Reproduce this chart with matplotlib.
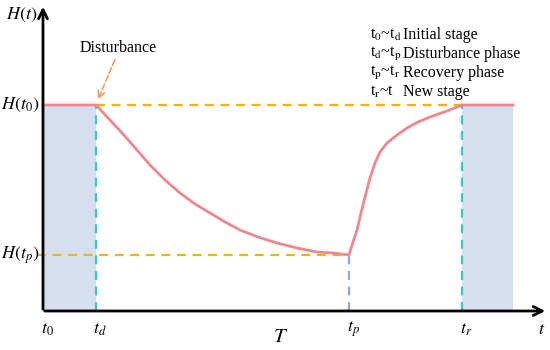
import matplotlib.pyplot as plt

plt.rcParams['mathtext.fontset'] = 'stix'
plt.rcParams['font.family'] = ['Liberation Serif', 'DejaVu Serif']

# key instants on the time axis and levels of H
t0, td, tp, tr, t_end, t_axis = 0, 53, 306, 419, 470, 505
h0, hp, h_axis = 206, 56, 307

# performance curve H(t)
curve_t = [0, 53, 67, 80, 94, 107, 122, 137, 152, 167, 182, 197, 215, 234,
           254, 274, 290, 306,
           310, 314, 318, 322, 327, 332, 337, 344, 354, 364, 375, 387, 404,
           419, 470]
curve_h = [206, 206, 191, 177, 161, 146, 131, 118, 107, 98, 89, 81, 74, 68,
           63, 59, 58, 56,
           69, 81, 98, 114, 133, 148, 159, 168, 176, 183, 189, 194, 200,
           206, 206]

stages = [(r't$_\mathrm{0}$~t$_\mathrm{d}$', 'Initial stage'),
          (r't$_\mathrm{d}$~t$_\mathrm{p}$', 'Disturbance phase'),
          (r't$_\mathrm{p}$~t$_\mathrm{r}$', 'Recovery phase'),
          (r't$_\mathrm{r}$~t', 'New stage')]

tick_pos = [t0, td, tp, tr, t_axis - 10]
tick_txt = [r'$t_0$', r'$t_d$', r'$t_p$', r'$t_r$', r'$t$']

fig = plt.figure(figsize=(5.5, 3.5), dpi=100)
ax = fig.add_axes([0, 0, 1, 1])
ax.set_xlim(-43, 507)
ax.set_ylim(-39, 311)
ax.axis('off')

# shaded stable stages
ax.fill_between([t0, td], 0, h0, color='#d5dff0', lw=0)
ax.fill_between([tr, t_end], 0, h0, color='#d5dff0', lw=0)

# reference lines
ax.plot([td, tr], [h0, h0], color='#f5b300', lw=1.6, ls=(0, (4, 3)))
ax.plot([-6, tp], [hp, hp], color='#f5b300', lw=1.6, ls=(0, (4, 3)))
ax.plot([td, td], [0, h0], color='#3cc6bd', lw=1.6, ls=(0, (4, 3)))
ax.plot([tr, tr], [0, h0], color='#3cc6bd', lw=1.6, ls=(0, (4, 3)))
ax.plot([tp, tp], [0, hp], color='#86a8e8', lw=1.6, ls=(0, (4, 3)))

ax.plot(curve_t, curve_h, color='#f0868e', lw=2.0, solid_joinstyle='round')

# axes with arrows
ax.annotate('', xy=(0, h_axis), xytext=(0, -1),
            arrowprops=dict(arrowstyle='->', lw=2, color='black', mutation_scale=16))
ax.annotate('', xy=(t_axis, 0), xytext=(-1, 0),
            arrowprops=dict(arrowstyle='->', lw=2, color='black', mutation_scale=16))

# disturbance annotation
ax.annotate('', xy=(td + 1, h0 + 3), xytext=(td + 20, h0 + 48),
            arrowprops=dict(arrowstyle='->', lw=1.2, color='#f5a060', ls='--',
                            mutation_scale=12))
ax.text(td + 22, h0 + 57, 'Disturbance', fontsize=11.5, ha='center', va='center')

# labels
ax.text(-21, 296, r'$H(t)$', fontsize=13, ha='center', va='center')
ax.text(-23, h0, r'$H(t_0)$', fontsize=13, ha='center', va='center')
ax.text(-23, hp, r'$H(t_p)$', fontsize=13, ha='center', va='center')
for x, s in zip(tick_pos, tick_txt):
    ax.text(x + 4, -18, s, fontsize=13, ha='center', va='center')
ax.text(238, -26, r'$T$', fontsize=15, ha='center', va='center')

for i, (a, b) in enumerate(stages):
    y = 276 - i * 19
    ax.text(327, y, a, fontsize=11.5, ha='left', va='center')
    ax.text(360, y, b, fontsize=11.5, ha='left', va='center')

fig.savefig('out.png', dpi=100)
